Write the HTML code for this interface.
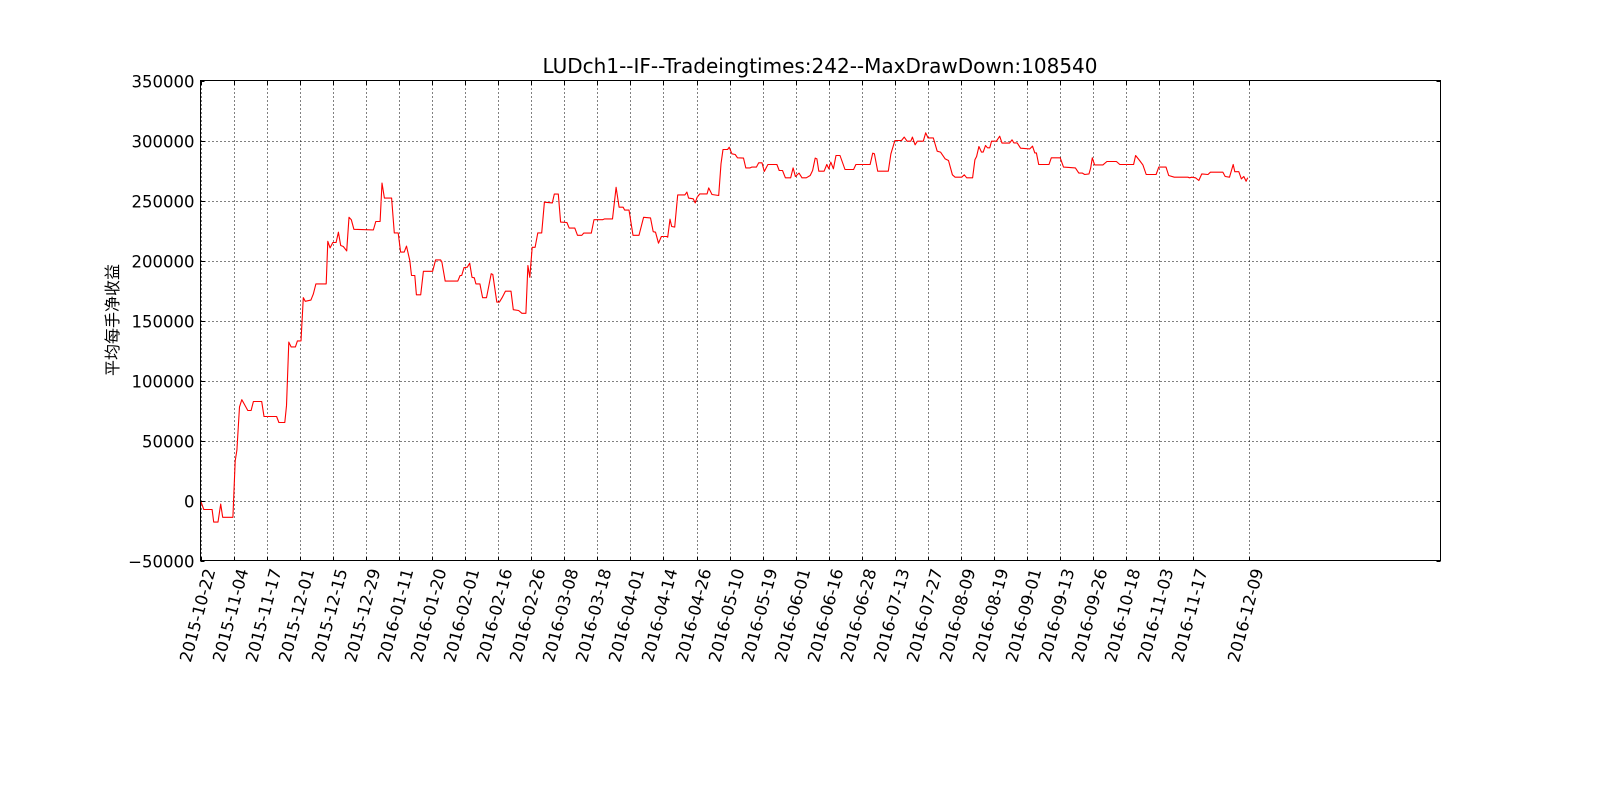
<!DOCTYPE html>
<html><head><meta charset="utf-8"><style>
html,body{margin:0;padding:0;background:#fff;}
svg{display:block;font-family:"DejaVu Sans","Liberation Sans","Noto Sans CJK SC",sans-serif;}
</style></head><body>
<svg id="chart" width="1600" height="800" xmlns="http://www.w3.org/2000/svg">
<rect width="1600" height="800" fill="#fff"/>
<text x="820" y="73" font-size="20" text-anchor="middle">LUDch1--IF--Tradeingtimes:242--MaxDrawDown:108540</text>
<text transform="translate(118,320) rotate(-90)" font-size="16" text-anchor="middle" font-family="'Noto Sans CJK SC',sans-serif">平均每手净收益</text>
<g id="grid"></g>
<g id="series"></g>
<rect x="200.5" y="80.5" width="1240" height="480" fill="none" stroke="#000" stroke-width="1"/>
<g id="ticks"></g>
</svg>
<script>
const tickIndex=[0,10,20,30,40,50,60,70,80,90,100,110,120,130,140,150,160,170,180,190,200,210,220,230,240,250,260,270,280,290,300,317];
const tickLabels=["2015-10-22","2015-11-04","2015-11-17","2015-12-01","2015-12-15","2015-12-29","2016-01-11","2016-01-20","2016-02-01","2016-02-16","2016-02-26","2016-03-08","2016-03-18","2016-04-01","2016-04-14","2016-04-26","2016-05-10","2016-05-19","2016-06-01","2016-06-16","2016-06-28","2016-07-13","2016-07-27","2016-08-09","2016-08-19","2016-09-01","2016-09-13","2016-09-26","2016-10-18","2016-11-03","2016-11-17","2016-12-09"];
const yTicks=[-50000,0,50000,100000,150000,200000,250000,300000,350000];
const dayIndex=[0,1,3.5,4,5.3,6.1,6.7,9.8,10.5,11,11.8,12.5,13.3,14.3,15.3,16,18.5,19.2,23,23.7,25.5,26,26.7,27.4,28.7,29.3,30.4,31.1,31.7,33.4,34.1,34.9,38,38.5,39.2,40,41,41.7,42.4,43.2,44.2,44.9,45.6,46.4,52.3,53,54.3,54.9,55.6,57.8,58.6,59.8,60.5,61.6,62.3,63.3,63.8,64.8,65.3,66.6,67.4,70.2,71.1,72.6,73,74,77.8,78.5,79,79.7,80.7,81.4,82.1,82.8,83.3,84.5,85.3,86.5,87.9,88.4,89.6,90.4,91.2,92.2,93.9,94.6,96.2,97.2,98.4,99,99.6,100.3,101.2,102,103.2,104,106.4,107,108.2,108.9,110.8,111.5,113.2,114,115.3,115.9,118.2,119,121.6,122.2,124.6,125.7,126.6,127.8,128.3,129.6,130.8,132.6,134,136.1,136.9,137.6,138.5,139.4,141,141.3,142,142.5,143.4,144.3,146.5,147.1,147.6,149,149.6,150.2,151,153.2,153.7,154.7,156.7,157.4,158,159.4,159.9,160.7,161.7,162.4,164.2,164.9,166.2,166.7,168.1,168.8,169.8,170.5,171.6,174.3,175,176,176.9,178.5,179.2,179.9,181,181.9,183.2,184.4,185.1,185.9,186.4,187,188.6,189.4,190,190.6,191.4,192.2,193.4,194.9,197.5,198.2,202.5,203.3,203.8,204.8,208,208.8,210,212,212.8,213.7,214.8,215.3,216.1,216.8,218.6,219.3,220,221.6,222.8,223.8,225.2,226.2,227.4,228.2,230.2,231,231.7,233.5,234.2,234.7,235.4,236.2,236.7,237.4,238,238.7,239.2,240.7,241.7,242.4,244.7,245.4,246,247,248,250.8,251.6,252.3,252.8,253.5,256.6,257.3,260,261,264.6,265.6,266.7,267.4,268.7,269.2,269.7,270.4,272.9,274.1,277,278,282.2,282.8,284,285,286,289,289.8,292,292.8,294.5,298.6,299.1,299.8,300.9,301.9,302.8,304.7,305.4,309.2,309.9,311.2,312.3,312.8,314,314.8,315.5,316.2,316.7];
const equity=[0,-7.5,-7.5,-18,-18,-3,-14,-14,33,42,78,84,80,75,75,82.5,82.5,70,70,65,65,79,132,128,128,133,133,169,166,167,172,180.5,180.5,216,210.5,215,215,223.6,212.5,211.7,208,236,234,226,225.5,232.5,232.5,264.5,252,252,223,223,207,207,212,200,187.5,187.5,171.4,171.4,191,191,200.5,200.5,198.6,182.8,182.8,187.5,187.5,194,194.4,197.8,186,185.6,180.5,180.5,169,169,189,188.3,165.3,165.3,169,174.4,174.4,159,158.3,156,156,195.8,186,211,211,223,223,248.6,248,255.3,255.3,232,231.7,227,227,221,221,222.8,222.8,234,234,234.7,234.7,261,244.4,244.4,242,242,221,221,236,235.5,224,223.6,214.4,220,220,219.4,234.4,228.3,227.8,254.7,254.7,257,252,251.4,248,252.8,255.5,255.5,260.5,255,254.2,280.6,292.5,292.5,294.4,288.9,288.3,285.6,285.3,277.2,277.2,277.8,277.8,281.4,281.4,274.2,280,280,275,275,268.9,268.9,277.2,270,272.8,268.9,268.9,270.8,275,285.3,284.7,274.4,274.4,280,276.4,282,276.4,287.5,287.5,275.8,275.8,280,280,289.4,288.9,274.4,274.4,288.9,300,300,302.8,299.4,299.4,302.8,296.4,299.4,299.4,306.4,302.2,302.2,291.1,290.3,284.7,283.3,271.4,269.4,269.4,271.4,268.9,268.9,283.9,286.7,295,290.3,290.3,295.8,293.9,293.9,299.4,299.4,303.6,297.8,297.8,300.6,298,298,293.6,293,295.3,289.7,289.7,280,280,285.6,285.6,277.8,277.2,272.8,272.8,271.7,272.2,277.2,285.6,279.7,279.7,282.5,282.5,280,280,287.5,283.3,279.7,271.7,271.7,277.8,277.8,270.8,269.4,269.4,268.9,269.4,268.9,266.7,272.2,271.7,273.6,273.6,270,269.4,280,274,274,268,270,266,269];
const X0=200.5,X1=1440.5,Y0=560.5,Y1=80.5,XMAX=375,YMIN=-50000,YMAX=350000;
function xs(i){return X0+(X1-X0)*i/XMAX;}
function ys(v){return Y0-(Y0-Y1)*(v-YMIN)/(YMAX-YMIN);}
const NS="http://www.w3.org/2000/svg";
const grid=document.getElementById('grid'),ticks=document.getElementById('ticks'),series=document.getElementById('series');
function mk(t,a,p){const e=document.createElementNS(NS,t);for(const k in a)e.setAttribute(k,a[k]);p.appendChild(e);return e;}
tickIndex.forEach((ti,k)=>{
  const x=Math.round(xs(ti))+0.5;
  const g=mk('line',{x1:x,x2:x,y1:Y1,y2:Y0,stroke:'#000','stroke-dasharray':'1,3','stroke-width':1},grid);
  
  
  const t1=mk('line',{x1:x,x2:x,y1:Y0,y2:Y0-4,stroke:'#000'},ticks);
  
  
  const t2=mk('line',{x1:x,x2:x,y1:Y1,y2:Y1+4,stroke:'#000'},ticks);
  
  
  const lb=mk('text',{transform:`translate(${x+14},${Y0+10}) rotate(-75)`,'font-size':16.5,'text-anchor':'end'},ticks);
  lb.textContent=tickLabels[k];
  
  
});
yTicks.forEach(v=>{
  const y=Math.round(ys(v))+0.5;
  if(v>YMIN&&v<YMAX){const g=mk('line',{x1:X0,x2:X1,y1:y,y2:y,stroke:'#000','stroke-dasharray':'1,3','stroke-width':1},grid);
  
  }
  const t1=mk('line',{x1:X0,x2:X0+4,y1:y,y2:y,stroke:'#000'},ticks);
  
  
  const t2=mk('line',{x1:X1,x2:X1-4,y1:y,y2:y,stroke:'#000'},ticks);
  
  
  const lb=mk('text',{x:X0-6,y:y+6,'font-size':16.5,'text-anchor':'end'},ticks);
  lb.textContent=v<0?'\u2212'+Math.abs(v):String(v);
  
  
});
let d='';
dayIndex.forEach((i,k)=>{d+=(k?'L':'M')+xs(i).toFixed(1)+','+ys(equity[k]*1000).toFixed(1);});
const p=mk('path',{d:d,fill:'none',stroke:'#ff0000','stroke-width':1.1,'stroke-linejoin':'round'},series);


</script>
</body></html>
